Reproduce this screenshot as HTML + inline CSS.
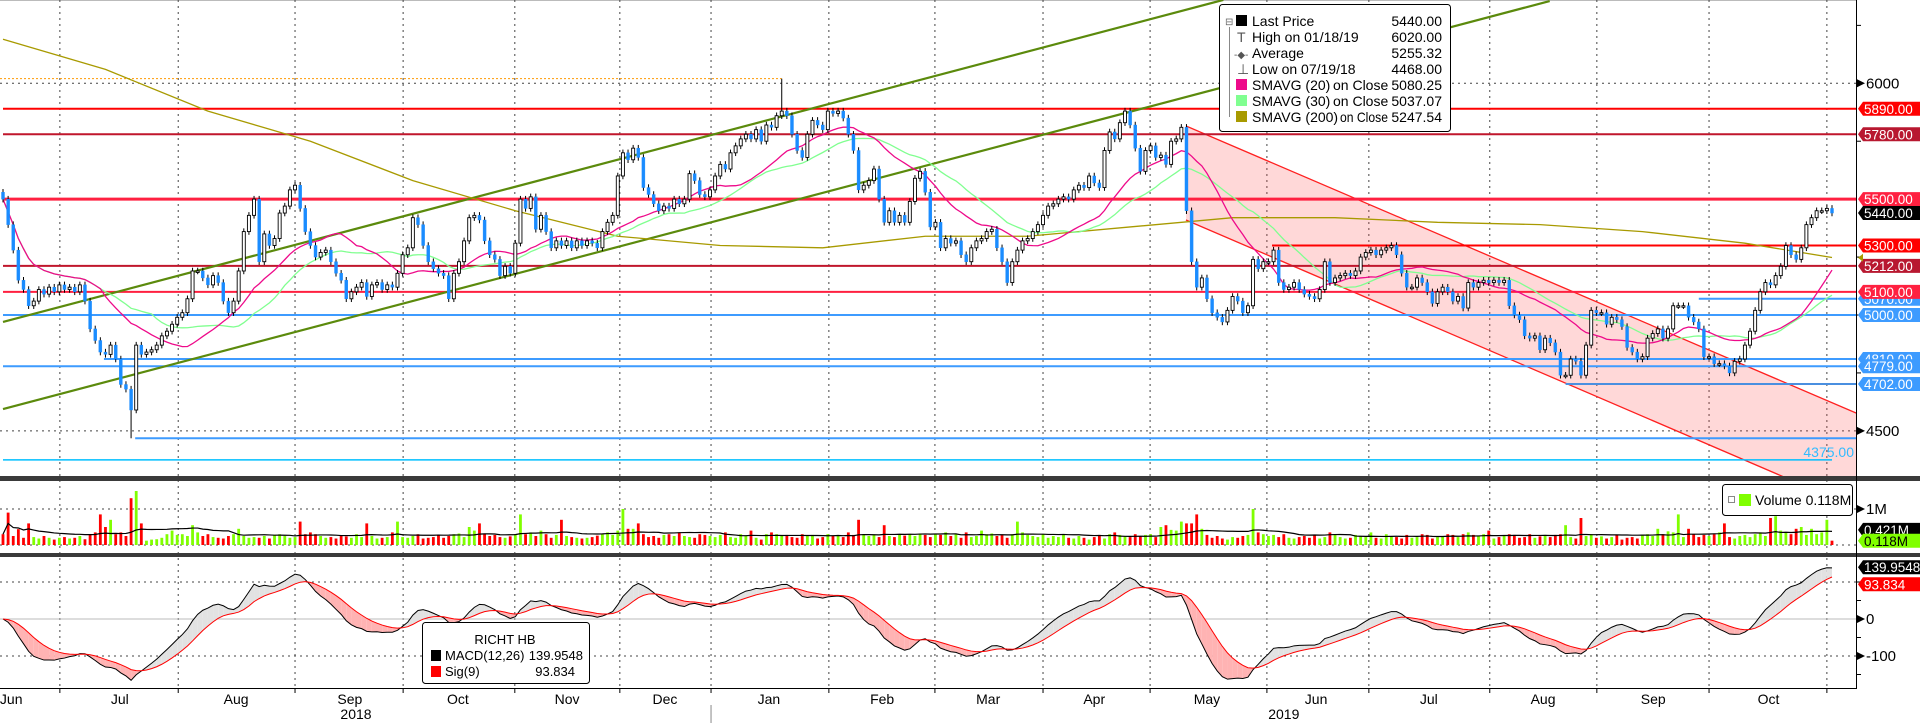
<!DOCTYPE html>
<html><head><meta charset="utf-8">
<style>
html,body{margin:0;padding:0;background:#fff;width:1920px;height:723px;overflow:hidden}
svg{display:block;font-family:"Liberation Sans",sans-serif}
</style></head>
<body>
<svg id="chart" width="1920" height="723" viewBox="0 0 1920 723" xmlns="http://www.w3.org/2000/svg">
<defs>
<clipPath id="cpPrice"><rect x="0" y="0" width="1856" height="476"/></clipPath>
<clipPath id="cpVol"><rect x="0" y="481" width="1856" height="72"/></clipPath>
<clipPath id="cpMacd"><rect x="0" y="557" width="1856" height="131"/></clipPath>
</defs>
<rect x="0" y="0" width="1920" height="723" fill="#fff"/>
<line x1="0" y1="0.5" x2="1856" y2="0.5" stroke="#bbb"/>
<g id="grid"></g>
<g id="price" clip-path="url(#cpPrice)"></g>
<g id="vol" clip-path="url(#cpVol)"></g>
<g id="macd" clip-path="url(#cpMacd)"></g>
<rect x="0" y="476" width="1920" height="5" fill="#3a3a3a"/>
<rect x="0" y="553" width="1920" height="4" fill="#3a3a3a"/>
<line x1="1856.5" y1="0" x2="1856.5" y2="688" stroke="#000"/>
<line x1="0" y1="688.5" x2="1857" y2="688.5" stroke="#000"/>
<g id="axis" font-size="14"></g>

<g>
<rect x="1219.5" y="4.5" width="231" height="127" rx="3" fill="#fff" stroke="#000"/>
<text x="1225" y="25" font-size="10" fill="#666">⊟</text>
<line x1="1229.5" y1="27" x2="1229.5" y2="117" stroke="#888"/>
<g font-size="14" fill="#000">
<rect x="1236" y="15" width="11" height="11" fill="#000"/><text x="1252" y="26">Last Price</text><text x="1442" y="26" text-anchor="end">5440.00</text>
<text x="1237" y="42" fill="#555">T</text><text x="1252" y="42">High on 01/18/19</text><text x="1442" y="42" text-anchor="end">6020.00</text>
<text x="1234" y="58" fill="#555" font-size="10">-◆-</text><text x="1252" y="58">Average</text><text x="1442" y="58" text-anchor="end">5255.32</text>
<text x="1237" y="74" fill="#555">⊥</text><text x="1252" y="74">Low on 07/19/18</text><text x="1442" y="74" text-anchor="end">4468.00</text>
<rect x="1236" y="79" width="11" height="11" fill="#ee0a8a"/><text x="1252" y="90">SMAVG (20)</text><text x="1333" y="90">on Close</text><text x="1442" y="90" text-anchor="end">5080.25</text>
<rect x="1236" y="95" width="11" height="11" fill="#80ff90"/><text x="1252" y="106">SMAVG (30)</text><text x="1333" y="106">on Close</text><text x="1442" y="106" text-anchor="end">5037.07</text>
<rect x="1236" y="111" width="11" height="11" fill="#a89a00"/><text x="1252" y="122">SMAVG (200)</text><text x="1340" y="122" textLength="48" lengthAdjust="spacingAndGlyphs">on Close</text><text x="1442" y="122" text-anchor="end">5247.54</text>
</g></g>

<g>
<rect x="1722.5" y="484.5" width="130" height="31" rx="3" fill="#fff" stroke="#000"/>
<rect x="1728.5" y="496.5" width="6" height="6" fill="#fff" stroke="#888"/>
<rect x="1739" y="494" width="12" height="12" fill="#80ff00"/>
<text x="1755" y="505" font-size="14">Volume  0.118M</text>
</g>

<g>
<rect x="422.5" y="622.5" width="167" height="61" rx="3" fill="#fff" stroke="#000"/>
<text x="505" y="644" font-size="13" text-anchor="middle">RICHT HB</text>
<rect x="431" y="650" width="10" height="11" fill="#000"/>
<text x="445" y="660" font-size="13">MACD(12,26)</text><text x="583" y="660" font-size="13" text-anchor="end">139.9548</text>
<rect x="431" y="666" width="10" height="11" fill="#f00"/>
<text x="445" y="676" font-size="13">Sig(9)</text><text x="575" y="676" font-size="13" text-anchor="end">93.834</text>
</g>
</svg>
<script>
// ---- data ----
const closes = [5500,5390,5280,5150,5110,5040,5060,5110,5090,5120,5100,5130,5110,5120,5100,5130,5060,4940,4890,4840,
4830,4870,4810,4700,4680,4590,4870,4830,4840,4850,4870,4910,4930,4960,4990,5010,5070,5190,5190,5160,
5130,5170,5140,5060,5010,5060,5190,5360,5430,5500,5230,5350,5300,5330,5440,5470,5540,5560,5460,5360,
5300,5250,5270,5280,5230,5180,5150,5070,5100,5120,5140,5080,5130,5140,5110,5130,5120,5180,5260,5290,
5420,5390,5300,5230,5200,5180,5170,5070,5180,5230,5320,5420,5430,5410,5320,5260,5240,5170,5210,5180,
5310,5500,5460,5510,5370,5430,5360,5290,5320,5300,5320,5290,5320,5300,5320,5310,5290,5360,5400,5430,
5600,5700,5670,5720,5680,5550,5520,5480,5450,5470,5460,5500,5480,5500,5610,5580,5520,5510,5540,5600,
5650,5630,5700,5730,5760,5780,5760,5800,5750,5820,5810,5860,5880,5860,5780,5710,5680,5780,5840,5820,
5800,5880,5870,5880,5850,5780,5710,5540,5560,5580,5630,5500,5400,5450,5400,5430,5400,5490,5590,5620,
5530,5380,5400,5290,5330,5310,5320,5260,5230,5290,5320,5330,5360,5370,5290,5230,5140,5230,5280,5320,
5330,5360,5390,5430,5470,5480,5500,5510,5500,5540,5560,5550,5600,5570,5550,5710,5790,5760,5830,5880,
5820,5720,5620,5710,5730,5680,5690,5650,5750,5760,5810,5450,5230,5120,5160,5070,5010,4990,4970,5020,
5080,5060,5010,5040,5240,5200,5230,5230,5280,5140,5110,5120,5140,5110,5090,5080,5070,5110,5230,5140,
5160,5170,5180,5170,5190,5250,5270,5280,5260,5280,5290,5300,5260,5180,5120,5120,5160,5140,5100,5050,
5100,5120,5100,5060,5080,5030,5140,5120,5140,5150,5140,5150,5140,5150,5040,5000,4980,4910,4900,4910,
4850,4900,4880,4840,4740,4740,4810,4800,4740,4870,5020,5010,5010,4960,4990,4980,4950,4860,4840,4810,
4820,4900,4920,4940,4900,4940,5040,5040,5040,4990,4970,4940,4820,4820,4790,4790,4780,4750,4800,4810,
4870,4930,5020,5100,5140,5130,5170,5210,5300,5260,5240,5290,5390,5420,5450,5450,5460,5440];
const firstOpen = 5530;
const spikeIdx = [25, 152];
const spikeVal = [4468, 6020];
// volume in 0.01M units
const volumes = [30,90,25,44,20,60,22,18,25,20,15,20,22,18,20,25,16,30,35,85,
50,70,30,35,25,130,150,60,12,15,16,20,30,40,28,30,25,55,35,25,
30,22,20,18,25,30,45,25,20,22,20,25,18,28,30,25,20,22,65,30,
35,30,25,20,22,18,25,24,20,30,22,60,25,18,20,22,35,65,22,20,
25,30,18,20,22,28,20,25,30,32,22,50,40,60,30,25,28,22,20,24,
30,85,30,35,25,40,30,20,28,70,25,22,20,18,20,22,26,30,35,28,
40,100,45,45,60,30,22,25,20,28,30,25,35,25,22,20,30,28,25,22,
28,35,22,20,30,25,40,20,15,30,35,30,25,28,22,20,30,25,28,18,
22,30,25,28,22,35,28,70,30,25,28,22,55,25,22,28,26,30,25,32,
28,22,30,28,35,25,30,20,35,22,25,40,30,32,25,28,20,30,65,35,
28,25,22,30,20,25,22,28,20,18,25,20,15,22,28,18,30,35,28,25,
22,30,25,28,30,22,50,55,42,40,65,60,60,85,45,28,20,25,18,15,
22,20,25,28,100,35,30,25,28,22,30,20,18,22,25,20,28,18,22,35,
30,22,18,20,28,25,22,35,20,18,30,25,22,18,28,20,22,30,28,18,
22,25,30,28,22,30,35,28,25,30,40,18,22,25,30,28,20,22,30,20,
24,28,22,28,30,55,22,18,75,25,30,20,24,18,22,28,15,20,22,18,
28,30,25,45,30,38,35,85,22,45,30,22,28,25,30,35,60,22,18,25,
28,22,30,35,25,75,80,40,35,30,45,50,28,45,30,35,70,12];
const sma200Idx = [0,20,40,60,80,100,120,140,160,180,200,220,240,260,280,300,320,340,357];
const sma200Val = [6190,6060,5880,5750,5580,5450,5340,5300,5290,5340,5340,5380,5420,5420,5400,5390,5360,5310,5248];
const levelPrices = [5890,5780,5500,5300,5212,5100,5070,5000,4810,4779,4702,4468,4375];
const levelStartIdx = [0,0,0,247.7,0,0,331,0,19.7,0,305,25.8,0];
const levelColors = ['#ff0000','#c0162c','#ff2040','#ff0000','#c0162c','#ff2040','#3d9bff','#3d9bff','#3d9bff','#3d9bff','#4a8fe0','#3d9bff','#00bfff'];
const levelWidths = [2,2,3,2,2,2,2,2,2,2,2,2,1.5];
const labelPrices = [5070,4810,5890,5780,5500,5440,5300,5212,5100,5000,4779,4702];
const labelColors = ['#3d9bff','#3d9bff','#ff0000','#b81830','#ff2040','#000000','#ff0000','#b81830','#ff2040','#3d9bff','#3d9bff','#3d9bff'];
const greenUpperIdx = [0,238.2]; const greenUpperVal = [4970,6360];
const greenLowerIdx = [0,301.9]; const greenLowerVal = [4594,6355];
const redUpperIdx = [230.9,361.7]; const redUpperVal = [5816,4577];
const redLowerIdx = [230.9,361.7]; const redLowerVal = [5410,4167];
const monthBoundIdx = [11.1,34.2,57,78.1,99.9,120.4,138.2,161.2,181.9,203,223.9,246.7,266.6,290.2,311.1,333,356];
const monthLabels = ['Jun','Jul','Aug','Sep','Oct','Nov','Dec','Jan','Feb','Mar','Apr','May','Jun','Jul','Aug','Sep','Oct'];
const monthLabelIdx = [1.6,22.8,45.5,67.7,88.8,110.1,129.2,149.5,171.6,192.3,213,235,256.3,278.3,300.6,322.1,344.6];
const yearLabels = ['2018','2019'];
const yearLabelIdx = [68.9,250];
const priceTicks = [6000,4500];
const priceMinor = [6250,5750,5250,5000,4750];
const macdTicks = [0,-100];
const macdMinor = [100,50,-50,-150];
const volTicks = [1];

// ---- scales ----
const NS='http://www.w3.org/2000/svg';
const N = closes.length;
const X = i => 3 + i*(1829/357);
const PY = p => 83.3 + (6000-p)*0.2317;
const VY = v => 545 - v*0.36;
const MY = m => 619 - m*0.37;
function el(tag, parent){const e=document.createElementNS(NS,tag);parent.appendChild(e);return e;}
function at(e,o){for(const k in o)e.setAttribute(k,o[k]);return e;}
const gGrid=document.getElementById('grid'),gP=document.getElementById('price'),gV=document.getElementById('vol'),gM=document.getElementById('macd'),gA=document.getElementById('axis');

monthBoundIdx.forEach(b=>{
  const l=el('line',gGrid);
  
  
  at(l,{x1:X(b),x2:X(b),y1:0,y2:688,stroke:'#444','stroke-dasharray':'2,4'});
  const t=el('line',gA);
  
  
  at(t,{x1:X(b),x2:X(b),y1:688,y2:693,stroke:'#000'});
});
[PY(6000),PY(4500),VY(100),545,MY(100),MY(-100)].forEach(y=>{
  const l=el('line',gGrid);
  
  
  at(l,{x1:0,x2:1856,y1:y,y2:y,stroke:'#444','stroke-dasharray':'2,4'});
});

const pts=[[X(redUpperIdx[0]),PY(redUpperVal[0])],[X(redUpperIdx[1]),PY(redUpperVal[1])],[X(redLowerIdx[1]),PY(redLowerVal[1])],[X(redLowerIdx[0]),PY(redLowerVal[0])]];
const ch=el('polygon',gP);


at(ch,{points:pts.map(p=>p.join(',')).join(' '),fill:'rgba(255,60,60,0.2)'});
[[redUpperIdx,redUpperVal],[redLowerIdx,redLowerVal]].forEach(([a,b])=>{
  const l=el('line',gP);
  
  
  at(l,{x1:X(a[0]),y1:PY(b[0]),x2:X(a[1]),y2:PY(b[1]),stroke:'#ff2020','stroke-width':1.3});
});

const od=el('line',gP);


at(od,{x1:0,x2:X(152),y1:PY(6020),y2:PY(6020),stroke:'#ff9900','stroke-dasharray':'2,2'});

levelPrices.forEach((p,k)=>{
  const l=el('line',gP);
  
  
  at(l,{x1:X(levelStartIdx[k]),x2:(p===4375?1832:1856),y1:PY(p),y2:PY(p),stroke:levelColors[k],'stroke-width':levelWidths[k]});
});
const lt=el('text',gP);


at(lt,{x:1854,y:PY(4375)-3,'text-anchor':'end',fill:'#33bbff','font-size':14});
lt.textContent='4375.00';

[[greenUpperIdx,greenUpperVal],[greenLowerIdx,greenLowerVal]].forEach(([a,b])=>{
  const l=el('line',gP);
  
  
  at(l,{x1:X(a[0]),y1:PY(b[0]),x2:X(a[1]),y2:PY(b[1]),stroke:'#5b8a0c','stroke-width':2.2});
});

function sma(arr,n){return arr.map((_,i)=>{const s=Math.max(0,i-n+1);let t=0;for(let j=s;j<=i;j++)t+=arr[j];return t/(i-s+1);});}
function poly(vals,name,color,w,xs){
  const p=el('polyline',gP);
  
  
  at(p,{points:vals.map((v,i)=>(xs?X(xs[i]):X(i))+','+PY(v)).join(' '),fill:'none',stroke:color,'stroke-width':w});
}
poly(sma200Val,'sma-200-line','#a89a00',1.3,sma200Idx);
poly(sma(closes,30),'sma-30-line','#80ff90',1.3);
poly(sma(closes,20),'sma-20-line','#ee0a8a',1.3);

for(let i=0;i<N;i++){
  const o=i===0?firstOpen:closes[i-1], c=closes[i];
  let hi=Math.max(o,c)+14, lo=Math.min(o,c)-14;
  const si=spikeIdx.indexOf(i);
  if(si>=0){ if(spikeVal[si]>hi) hi=spikeVal[si]; else lo=spikeVal[si]; }
  const w=el('line',gP);
  
  
  at(w,{x1:X(i),x2:X(i),y1:PY(hi),y2:PY(lo),stroke:'#000','stroke-width':1});
  const b=el('rect',gP);
  
  
  const up=c>=o, top=PY(Math.max(o,c)), h=Math.max(1.5,Math.abs(PY(o)-PY(c)));
  at(b,{x:X(i)-1.5,y:top,width:3,height:h,fill:up?'#fff':'#1a8cff',stroke:up?'#000':'#1a8cff','stroke-width':up?0.9:0.4});
}

for(let i=0;i<N;i++){
  const up=i===0?false:closes[i]>=closes[i-1];
  const r=el('rect',gV);
  
  
  at(r,{x:X(i)-1.4,y:VY(volumes[i]),width:2.8,height:545-VY(volumes[i]),fill:up?'#80ff00':'#ff0000'});
}
const vma=sma(volumes,20);
const vl=el('polyline',gV);


at(vl,{points:vma.map((v,i)=>X(i)+','+VY(v)).join(' '),fill:'none',stroke:'#000','stroke-width':1.2});

function ema(arr,n){const k=2/(n+1);const o=[];arr.forEach((v,i)=>o.push(i?o[i-1]+k*(v-o[i-1]):v));return o;}
const e12=ema(closes,12),e26=ema(closes,26);
const macdV=e12.map((v,i)=>v-e26[i]);
const sigV=ema(macdV,9);
const z=el('line',gM);


at(z,{x1:0,x2:1856,y1:MY(0),y2:MY(0),stroke:'#bbb'});
for(let i=0;i<N-1;i++){
  const f=el('polygon',gM);
  
  
  const above=(macdV[i]+macdV[i+1])>(sigV[i]+sigV[i+1]);
  at(f,{points:[[X(i),MY(macdV[i])],[X(i+1),MY(macdV[i+1])],[X(i+1),MY(sigV[i+1])],[X(i),MY(sigV[i])]].map(p=>p.join(',')).join(' '),fill:above?'#e2e2e2':'#ffb3b3'});
}
const ml=el('polyline',gM);


at(ml,{points:macdV.map((v,i)=>X(i)+','+MY(v)).join(' '),fill:'none',stroke:'#000','stroke-width':1});
const sl=el('polyline',gM);


at(sl,{points:sigV.map((v,i)=>X(i)+','+MY(v)).join(' '),fill:'none',stroke:'#ff0000','stroke-width':1});

function tickLabel(y,txt,name){
  const a=el('polygon',gA);
  
  
  at(a,{points:`1857,${y-4} 1865,${y} 1857,${y+4}`,fill:'#000'});
  const t=el('text',gA);
  
  
  at(t,{x:1866,y:y+5,'font-size':15});
  t.textContent=txt;
}
function minor(y){
  const m=el('line',gA);
  
  
  at(m,{x1:1857,x2:1861,y1:y,y2:y,stroke:'#000'});
}
priceTicks.forEach(p=>tickLabel(PY(p),String(p),'price-tick-label'));
priceMinor.forEach(p=>minor(PY(p)));
volTicks.forEach(v=>tickLabel(VY(v*100),v+'M','volume-tick-label'));
macdTicks.forEach(m=>tickLabel(MY(m),String(m),'macd-tick-label'));
macdMinor.forEach(m=>minor(MY(m)));

function box(y,txt,bg,fg,name){
  const p=el('polygon',gA);
  
  
  at(p,{points:`1858,${y} 1863,${y-7} 1920,${y-7} 1920,${y+7} 1863,${y+7}`,fill:bg});
  const t=el('text',gA);
  
  
  at(t,{x:1864,y:y+5,fill:fg,'font-size':13.5});
  t.textContent=txt;
}
labelPrices.forEach((p,k)=>box(PY(p),p.toFixed(2),labelColors[k],'#fff','price-label-'+p));
const sm=el('polygon',gA);


at(sm,{points:`1858,${PY(5247)} 1863,${PY(5247)-4} 1863,${PY(5247)+4}`,fill:'#a89a00'});
box(VY(42),'0.421M','#000','#fff','volume-avg-label');
box(VY(11.8),'0.118M','#80ff00','#000','volume-last-label');
box(MY(139.95),'139.9548','#000','#fff','macd-value-label');
box(MY(93.834),'93.834','#ff0000','#fff','signal-value-label');

monthLabels.forEach((m,k)=>{
  const t=el('text',gA);
  
  
  at(t,{x:X(monthLabelIdx[k]),y:704,'text-anchor':'middle','font-size':14});
  t.textContent=m;
});
yearLabels.forEach((yv,k)=>{
  const t=el('text',gA);
  
  
  at(t,{x:X(yearLabelIdx[k]),y:719,'text-anchor':'middle','font-size':14});
  t.textContent=yv;
});
const yd=el('line',gA);


at(yd,{x1:X(monthBoundIdx[6]),x2:X(monthBoundIdx[6]),y1:705,y2:723,stroke:'#888'});
</script>
</body></html>
